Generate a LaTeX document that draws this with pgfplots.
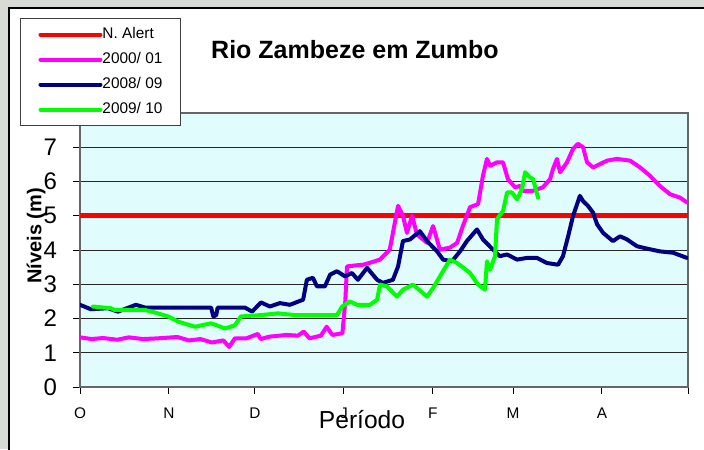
\documentclass[border=0pt]{standalone}
\usepackage{fontspec}
\setmainfont{Liberation Sans}
\usepackage{pgfplots}
\pgfplotsset{compat=1.18}

\definecolor{bggray}{RGB}{216,219,213}
\definecolor{plotbg}{RGB}{225,252,252}
\definecolor{navyline}{RGB}{0,0,128}
\definecolor{pinkline}{RGB}{255,0,255}
\definecolor{greenline}{RGB}{0,255,0}
\definecolor{redline}{RGB}{255,0,0}

\begin{document}
\begin{tikzpicture}
% page: 704x449 px at 0.5pt per px
\useasboundingbox (0pt,0pt) rectangle (352pt,-224.5pt);
\fill[bggray] (0pt,0pt) rectangle (352pt,-224.5pt);
\filldraw[fill=white, draw=black, line width=1pt] (4.5pt,-4pt) rectangle (360pt,-240pt);

\begin{axis}[
    at={(40pt,-193.5pt)}, anchor=south west,
    scale only axis,
    width=304pt, height=137pt,
    xmin=0, xmax=212,
    ymin=0, ymax=8,
    xtick={0,31,61,92,123,151,182,212},
    xticklabels={O,N,D,J,F,M,A,},
    ytick={0,1,2,3,4,5,6,7},
    ymajorgrids,
    grid style={black!85, line width=0.5pt},
    axis line style={black!60, line width=0.6pt},
    tick align=outside,
    major tick length=3.5pt,
    tick style={black, line width=0.5pt},
    xtick pos=bottom, ytick pos=left,
    /pgf/number format/assume math mode=true,
    yticklabel style={font=\fontsize{12}{14}\selectfont, xshift=-4.5pt},
    xticklabel style={font=\fontsize{7.7}{9}\selectfont, yshift=-3.5pt},
    axis background/.style={fill=plotbg},
    legend style={
        at={(-0.0987,1.3467)}, anchor=north west,
        draw=black!75, fill=white, line width=0.5pt,
        inner xsep=9pt, inner ysep=1.75pt,
        font=\fontsize{7.7}{9}\selectfont,
        row sep=0pt,
        nodes={inner sep=0pt, minimum height=12.5pt},
        /tikz/every even column/.append style={column sep=1pt},
    },
    legend cell align=left,
    legend image code/.code={
        \draw[#1, line width=2pt] (0pt,0pt) -- (30pt,0pt);
    },
    every axis plot/.append style={line join=round, line cap=round},
]

\addplot[redline, line width=2.5pt] coordinates {(0,5) (212,5)};
\addlegendentry{N. Alert}

\addplot[pinkline, line width=2pt] coordinates {
(0,1.45) (4,1.40) (8,1.43) (13,1.38) (17,1.45) (22,1.40) (27,1.42) (34,1.46)
(38,1.36) (42,1.40) (46,1.30) (50,1.36) (52,1.17) (54,1.42) (58,1.42) (62,1.55)
(63,1.40) (66,1.47) (72,1.52) (76,1.50) (78,1.62) (80,1.42) (84,1.50) (86,1.76)
(88,1.52) (91.5,1.57) (92.5,2.5) (93.1,3.52) (96,3.55) (98.7,3.57) (102,3.65)
(104.6,3.72) (108,4.01) (110.9,5.29) (112.6,5.0) (114,4.5) (115.8,5.0) (117.5,4.45)
(121,4.21) (123.1,4.7) (125.5,4.01) (129,4.07) (131.5,4.21) (133.5,4.7) (136,5.25)
(138.8,5.34) (140.5,6.17) (141.9,6.66) (143,6.46) (145.4,6.56) (147.5,6.56)
(149.2,6.07) (151.7,5.83) (153.4,5.87) (154.5,5.73) (158,5.73) (161.4,5.83)
(163.9,6.07) (164.9,6.36) (166.3,6.66) (167.4,6.27) (169.8,6.56) (171.9,6.95)
(173.6,7.1) (175.4,7.0) (176.8,6.56) (178.9,6.41) (181.3,6.51) (183.8,6.61)
(187.2,6.66) (191.8,6.61) (195.3,6.41) (198.7,6.17) (202.2,5.87) (205.7,5.63)
(209.2,5.53) (211.6,5.39)
};
\addlegendentry{2000/ 01}

\addplot[navyline, line width=2pt] coordinates {
(0,2.40) (3.8,2.27) (9.8,2.30) (13.2,2.20) (19.5,2.40) (22.7,2.32) (45.7,2.32)
(46.5,2.06) (47.5,2.10) (48,2.32) (57.5,2.32) (60,2.2) (63.1,2.47) (66.2,2.35)
(69.7,2.45) (73.2,2.40) (77.8,2.55) (79.1,3.13) (81.2,3.19) (82.6,2.94) (85.4,2.94)
(87.2,3.28) (89.6,3.38) (92.4,3.23) (94.8,3.33) (96.9,3.13) (100.1,3.48)
(103.6,3.13) (105.6,3.04) (109.1,3.13) (110.9,3.52) (112.6,4.26) (115.1,4.31)
(118.5,4.55) (121,4.26) (124.5,3.96) (126.6,3.72) (129.7,3.67) (132.5,3.96)
(134.9,4.26) (138.4,4.6) (140.5,4.31) (144,4.01) (146.4,3.82) (148.9,3.87)
(152.4,3.72) (155.9,3.77) (159.3,3.77) (162.8,3.62) (166.7,3.57) (168.4,3.82)
(170.2,4.4) (171.9,4.99) (174.3,5.58) (175.4,5.43) (177.1,5.29) (178.9,5.09)
(180.3,4.75) (182.4,4.5) (185.8,4.26) (188.3,4.4) (190.7,4.31) (194.2,4.11)
(197.7,4.04) (202.2,3.96) (206.8,3.92) (211.6,3.77)
};
\addlegendentry{2008/ 09}

\addplot[greenline, line width=2pt] coordinates {
(4.5,2.35) (10.8,2.30) (12,2.25) (22.7,2.25) (27.2,2.15) (31,2.05) (34.2,1.91)
(40.1,1.76) (45.7,1.86) (50.6,1.71) (54,1.80) (56.1,2.06) (63.1,2.10) (69,2.15)
(75,2.10) (89.6,2.10) (91.4,2.35) (94.1,2.50) (96.6,2.40) (101.1,2.40) (103.6,2.55)
(104.6,2.99) (107,2.94) (110.5,2.64) (112.6,2.84) (116.1,2.99) (121,2.64)
(123.1,2.89) (125.5,3.23) (129,3.72) (131.5,3.62) (136,3.33) (138.8,2.99)
(141.2,2.84) (141.9,3.67) (143,3.43) (144.7,3.82) (145.4,4.9) (147.5,5.14)
(148.9,5.68) (150.6,5.68) (152.4,5.48) (154.1,5.78) (155.2,6.27) (156.9,6.12)
(158,6.07) (159.7,5.53)
};
\addlegendentry{2009/ 10}

\end{axis}

\node[font=\bfseries\fontsize{12.5}{15}\selectfont] at (177.5pt,-25pt) {Rio Zambeze em Zumbo};
\node[font=\bfseries\fontsize{10}{12}\selectfont, rotate=90] at (18pt,-118pt) {Níveis (m)};
\node[font=\fontsize{12.3}{14}\selectfont, anchor=base] at (181pt,-214pt) {Período};
\end{tikzpicture}
\end{document}
